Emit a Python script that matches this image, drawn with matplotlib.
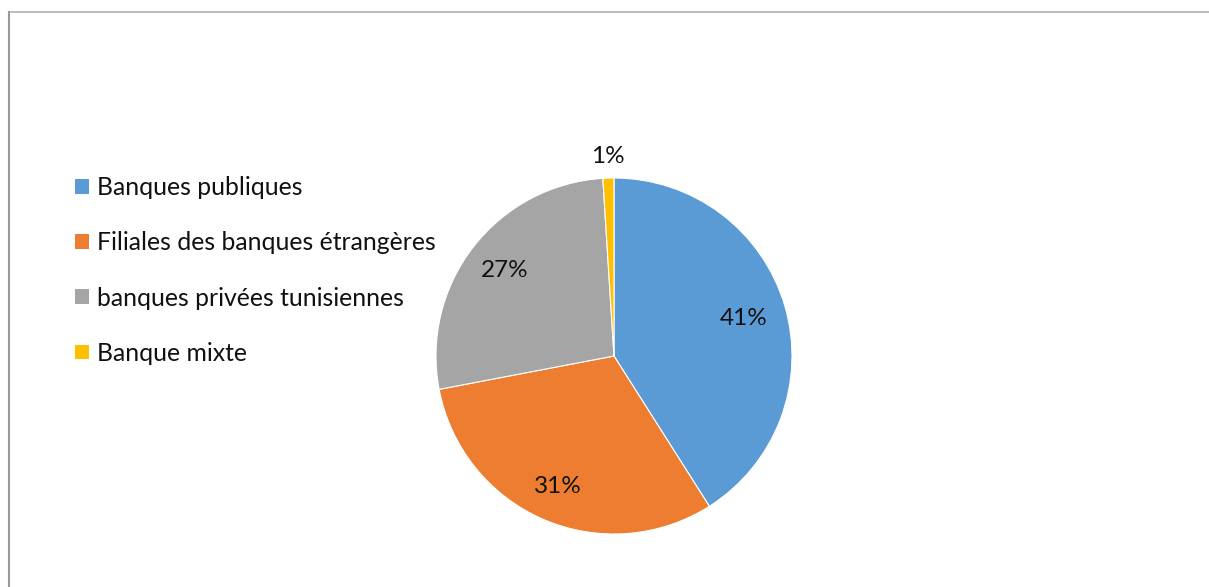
import matplotlib.pyplot as plt
import numpy as np
from matplotlib.lines import Line2D
from matplotlib.patches import Patch

categories = ['Banques publiques', 'Filiales des banques étrangères',
              'banques privées tunisiennes', 'Banque mixte']
values = [41, 31, 27, 1]
colors = ['#5B9BD5', '#ED7D31', '#A5A5A5', '#FFC000']
# distance of each percent label from the centre, as a share of the radius
label_dist = [0.76, 0.80, 0.78, 1.12]

plt.rcParams['font.family'] = ['Lato', 'DejaVu Sans']

W, H = 1209, 587
fig = plt.figure(figsize=(W / 100, H / 100), dpi=100)

# pie centred at (614, 356) px, radius 178 px
cx, cy, r, half = 614, 356, 178, 200
ax = fig.add_axes([(cx - half) / W, (H - cy - half) / H, 2 * half / W, 2 * half / H])
wedges, _ = ax.pie(values, colors=colors, startangle=90, counterclock=False,
                   wedgeprops=dict(edgecolor='white', linewidth=0.8))
ax.set_xlim(-half / r, half / r)
ax.set_ylim(-half / r, half / r)
ax.set_aspect('equal')
ax.axis('off')

for w, v, d in zip(wedges, values, label_dist):
    ang = np.deg2rad((w.theta1 + w.theta2) / 2)
    ax.text(d * np.cos(ang), d * np.sin(ang), f'{v}%', ha='center', va='center',
            fontsize=17.5, color='#111111')

handles = [Patch(facecolor=c, edgecolor='none') for c in colors]
fig.legend(handles, categories, loc='upper left',
           bbox_to_anchor=(53 / W, 1 - 154 / H), frameon=False, fontsize=17.8,
           handlelength=0.54, handleheight=0.54, handletextpad=0.33,
           labelspacing=1.3, labelcolor='#111111')

# chart area border (top and left)
bx, by = 8.5 / W, 1 - 11.5 / H
fig.add_artist(Line2D([bx, 1], [by, by], transform=fig.transFigure, color='#b0b0b0', lw=1.2))
fig.add_artist(Line2D([bx, bx], [0, by], transform=fig.transFigure, color='#9a9a9a', lw=1.5))

fig.savefig('out.png', dpi=100)
